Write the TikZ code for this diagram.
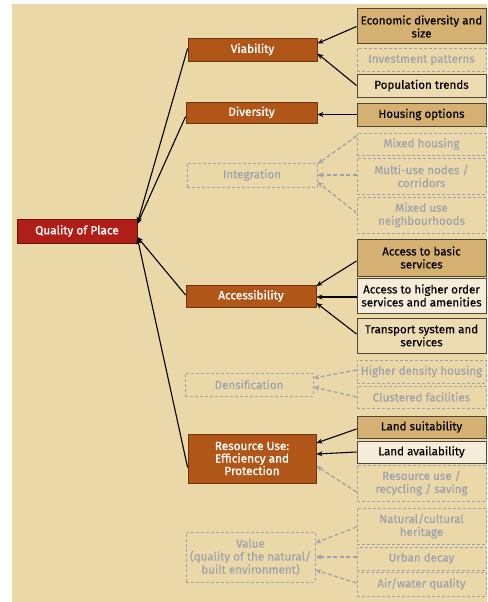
\documentclass[tikz,border=0pt]{standalone}
\usepackage{fontspec}
\setmainfont{Fira Sans}[FakeBold=0.3]
\newfontfamily\semib{Fira Sans}[FakeBold=1.3]
\usetikzlibrary{arrows.meta}
\definecolor{bg}{HTML}{EBD8A8}
\definecolor{tanbox}{HTML}{D4B072}
\definecolor{lightbox}{HTML}{EDDBB2}
\definecolor{paler}{HTML}{F5ECDA}
\definecolor{qred}{HTML}{B01E18}
\definecolor{qorange}{HTML}{B05619}
\definecolor{ghost}{HTML}{9EA2AC}
\definecolor{boxline}{HTML}{4E4536}
\tikzset{
  base/.style={rectangle, inner sep=0pt, align=center, font=\fontsize{11.6}{13}\selectfont},
  main/.style={base, fill=qorange, draw=qorange!60!black, line width=0.8pt, text=white, font=\semib\fontsize{11.8}{12.5}\selectfont},
  root/.style={base, fill=qred, draw=qred!60!black, line width=0.8pt, text=white, font=\semib\fontsize{11.8}{12.5}\selectfont},
  ghostmain/.style={base, draw=ghost, dashed, dash pattern=on 3pt off 2pt, line width=1pt, text=ghost},
  leaf/.style={base, draw=boxline, line width=1pt, text=black, minimum width=129pt},
  ghostleaf/.style={base, draw=ghost, dash pattern=on 3pt off 2pt, line width=1pt, text=ghost, minimum width=129pt},
  arr/.style={-{Stealth[length=6pt,width=5pt]}, line width=1.1pt, black},
  garr/.style={-{Stealth[length=6pt,width=5pt]}, line width=1.3pt, ghost, dash pattern=on 4pt off 2.5pt},
}
\begin{document}
\begin{tikzpicture}[x=1pt,y=-1pt]
\useasboundingbox (0,0) rectangle (487,602);
\fill[bg] (12,4) rectangle (487,602);
% main nodes
\node[root, minimum width=120pt, minimum height=24pt] (qop) at (77,231) {Quality of Place};
\node[main, minimum width=129pt, minimum height=23pt] (viab) at (252.5,49.5) {Viability};
\node[main, minimum width=131pt, minimum height=21pt] (div) at (251.5,112.5) {Diversity};
\node[ghostmain, minimum width=130pt, minimum height=24pt] (integ) at (252,175) {Integration};
\node[main, minimum width=130pt, minimum height=22pt] (acc) at (251,296) {Accessibility};
\node[ghostmain, minimum width=128pt, minimum height=23pt] (dens) at (249,384.5) {Densification};
\node[main, minimum width=128pt, minimum height=49pt] (res) at (252,458.5) {Resource Use:\\Efficiency and\\Protection};
\node[ghostmain, minimum width=129pt, minimum height=50pt] (val) at (250.5,557) {Value\\(quality of the natural/\\built environment)};
% leaves
\node[leaf, fill=tanbox, minimum height=35pt] (econ) at (421.5,26.5) {Economic diversity and\\size};
\node[ghostleaf, minimum height=22pt] (invest) at (421.5,60) {Investment patterns};
\node[leaf, fill=lightbox, minimum height=23pt] (pop) at (421.5,85.5) {Population trends};
\node[leaf, fill=tanbox, minimum height=23pt] (house) at (421.5,114.5) {Housing options};
\node[ghostleaf, minimum height=22pt] (mixh) at (421.5,144) {Mixed housing};
\node[ghostleaf, minimum height=36pt] (multi) at (421.5,176) {Multi-use nodes /\\corridors};
\node[ghostleaf, minimum height=36pt] (mixn) at (421.5,215) {Mixed use\\neighbourhoods};
\node[leaf, fill=tanbox, minimum height=37pt] (basic) at (421.5,257.5) {Access to basic\\services};
\node[leaf, fill=paler, minimum height=35pt] (higher) at (421.5,295.5) {Access to higher order\\services and amenities};
\node[leaf, fill=lightbox, minimum height=35pt] (trans) at (421.5,335.5) {Transport system and\\services};
\node[ghostleaf, minimum height=23pt] (hdens) at (421.5,371.5) {Higher density housing};
\node[ghostleaf, minimum height=22pt] (clust) at (421.5,397) {Clustered facilities};
\node[leaf, fill=tanbox, minimum height=22pt] (lsuit) at (421.5,427) {Land suitability};
\node[leaf, fill=paler, minimum height=22pt] (lavail) at (421.5,452) {Land availability};
\node[ghostleaf, minimum height=36pt] (recyc) at (421.5,483) {Resource use /\\recycling / saving};
\node[ghostleaf, minimum height=36pt] (nat) at (421.5,526) {Natural/cultural\\heritage};
\node[ghostleaf, minimum height=23pt] (urban) at (421.5,558.5) {Urban decay};
\node[ghostleaf, minimum height=24pt] (air) at (421.5,584) {Air/water quality};
% left connectors
\draw[arr] ([yshift=1pt]viab.west) -- ([yshift=8pt]qop.east);
\draw[arr] ([yshift=-4pt]div.west) -- ([yshift=7pt]qop.east);
\draw[arr] ([yshift=1pt]acc.west) -- ([yshift=-6pt]qop.east);
\draw[arr] ([yshift=-9pt]res.west) -- ([yshift=-7pt]qop.east);
% right connectors
\draw[arr] ([yshift=0pt]econ.west) -- ([yshift=6pt]viab.east);
\draw[arr] ([yshift=0pt]pop.west) -- ([yshift=-4pt]viab.east);
\draw[arr] (house.west) -- ([yshift=-2pt]div.east);
\draw[garr] ([yshift=8pt]mixh.west) -- ([yshift=11pt]integ.east);
\draw[garr] ([yshift=1pt]multi.west) -- ([yshift=0pt]integ.east);
\draw[garr] ([yshift=2pt]mixn.west) -- ([yshift=-7pt]integ.east);
\draw[arr] ([yshift=-3.5pt]basic.west) -- ([yshift=10pt]acc.east);
\draw[arr] ([yshift=-1.5pt]higher.west) -- ([yshift=-1pt]acc.east);
\draw[arr] ([yshift=1.5pt]trans.west) -- ([yshift=-7pt]acc.east);
\draw[garr] ([yshift=1.5pt]hdens.west) -- ([yshift=6.5pt]dens.east);
\draw[garr] ([yshift=0pt]clust.west) -- ([yshift=-2.5pt]dens.east);
\draw[arr] ([yshift=-2pt]lsuit.west) -- ([yshift=15.5pt]res.east);
\draw[arr] (lavail.west) -- ([yshift=4.5pt]res.east);
\draw[garr] ([yshift=-9pt]recyc.west) -- ([yshift=-7.5pt]res.east);
\draw[garr] ([yshift=-1pt]nat.west) -- ([yshift=14pt]val.east);
\draw[garr] ([yshift=1.5pt]urban.west) -- ([yshift=0pt]val.east);
\draw[garr] ([yshift=1pt]air.west) -- ([yshift=-13pt]val.east);
\end{tikzpicture}
\end{document}
